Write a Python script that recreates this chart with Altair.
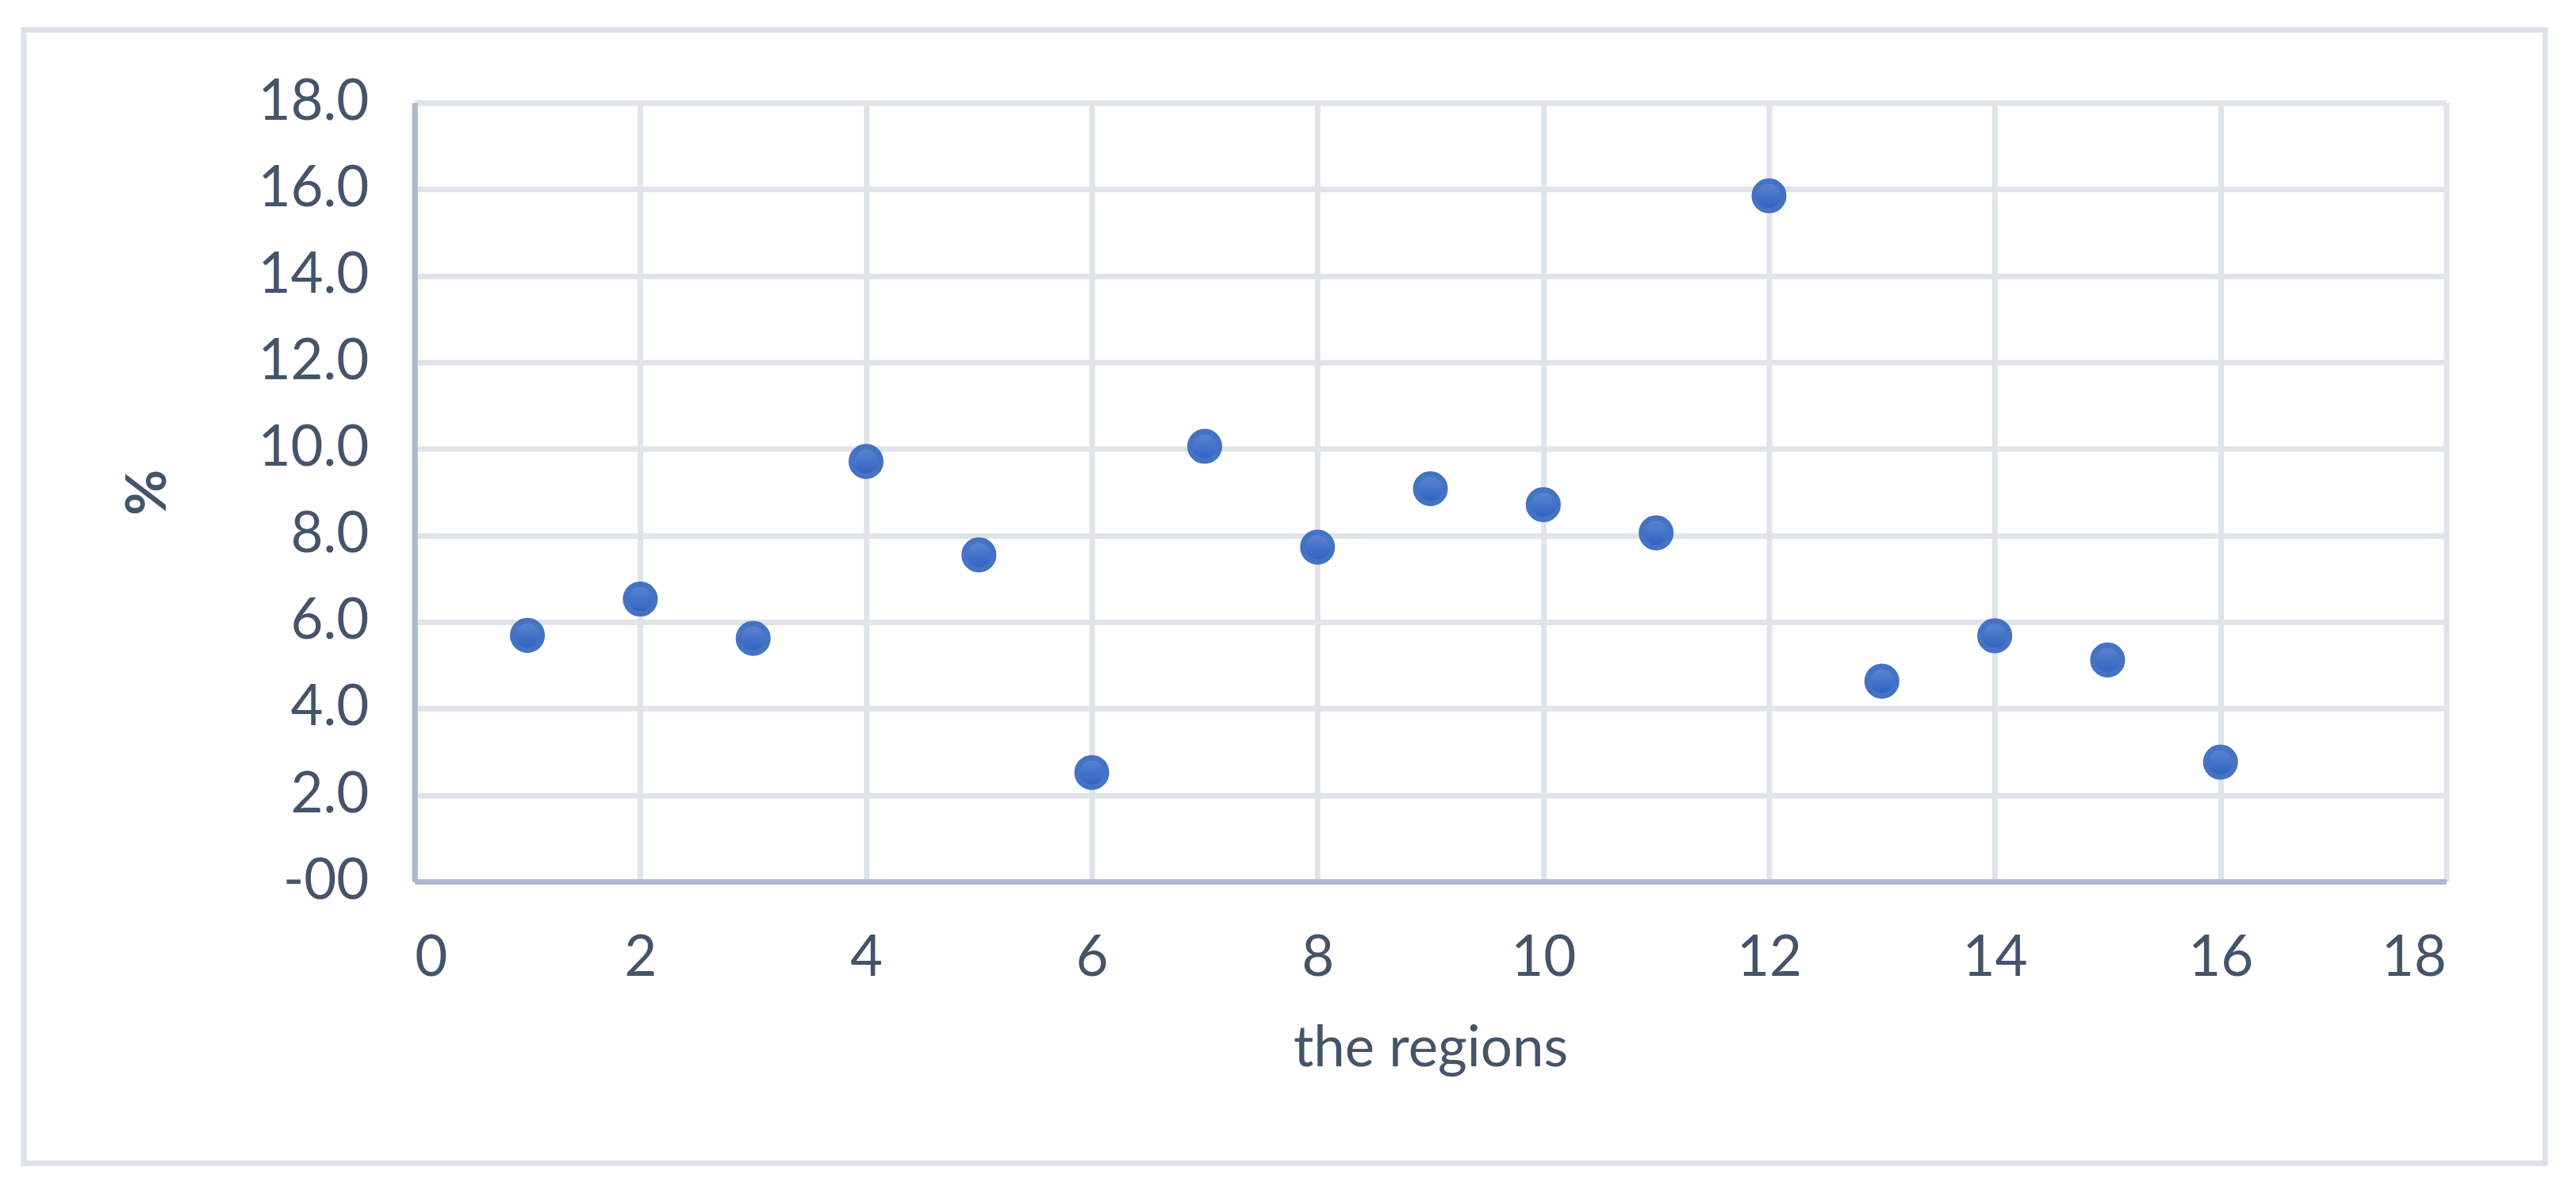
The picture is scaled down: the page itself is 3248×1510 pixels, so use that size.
import altair as alt
import pandas as pd

regions = [1, 2, 3, 4, 5, 6, 7, 8, 9, 10, 11, 12, 13, 14, 15, 16]
values = [5.69, 6.53, 5.62, 9.71, 7.55, 2.52, 10.06, 7.73, 9.08, 8.71, 8.06, 15.85, 4.63, 5.68, 5.12, 2.76]
x_ticks = [0, 2, 4, 6, 8, 10, 12, 14, 16, 18]
y_ticks = [0, 2, 4, 6, 8, 10, 12, 14, 16, 18]

df = pd.DataFrame({"region": regions, "pct": values})

TEXT = "#44546A"
GRID = "#DFE3EA"
AXIS = "#ADB9CA"
FONT = "Lato"
FS = 71
W, H = 2568, 984

border = alt.Chart(alt.Data(values=[{}])).mark_rect(
    filled=False, stroke="#DDE1E8", strokeWidth=7, fill=None
).encode(
    x=alt.value(-494), x2=alt.value(2693), y=alt.value(-92), y2=alt.value(1340)
)

points = alt.Chart(df).mark_circle(
    size=1385,
    opacity=1,
    fill={"gradient": "linear", "x1": 0, "y1": 0, "x2": 0, "y2": 1,
          "stops": [{"offset": 0, "color": "#5d86d2"}, {"offset": 1, "color": "#2d61be"}]},
    stroke="#4472C4",
    strokeWidth=7,
).encode(
    x=alt.X("region:Q",
            scale=alt.Scale(domain=[0, 18], nice=False, zero=False),
            axis=alt.Axis(values=x_ticks, title="the regions", format="d",
                          grid=True, gridColor=GRID, gridWidth=7,
                          domainColor=AXIS, domainWidth=7,
                          ticks=False, tickSize=0,
                          labelFont=FONT, labelFontSize=FS, labelColor=TEXT,
                          labelPadding=98, labelBaseline="middle",
                          titleFont=FONT, titleFontSize=FS, titleColor=TEXT,
                          titleFontWeight="normal",
                          titleX=W / 2, titleY=212, titleBaseline="middle",
                          titleAlign="center")),
    y=alt.Y("pct:Q",
            scale=alt.Scale(domain=[0, 18], nice=False, zero=False),
            axis=alt.Axis(values=y_ticks, title="%",
                          labelExpr="datum.value == 0 ? '-00' : format(datum.value, '.1f')",
                          grid=True, gridColor=GRID, gridWidth=7,
                          domainColor=AXIS, domainWidth=7,
                          ticks=False, tickSize=0,
                          labelFont=FONT, labelFontSize=FS, labelColor=TEXT,
                          labelPadding=58,
                          titleFont=FONT, titleFontSize=FS, titleColor=TEXT,
                          titleFontWeight="bold",
                          titleX=-336, titleY=H / 2, titleAngle=270,
                          titleBaseline="middle", titleAlign="center")),
)

chart = alt.layer(border, points).properties(
    width=W, height=H,
    autosize=alt.AutoSizeParams(type="none"),
    padding={"left": 516, "top": 120, "right": 156, "bottom": 398},
    background="white",
).configure_view(stroke=None)

chart.save("out.html", embed_options={"renderer": "svg", "actions": False})
